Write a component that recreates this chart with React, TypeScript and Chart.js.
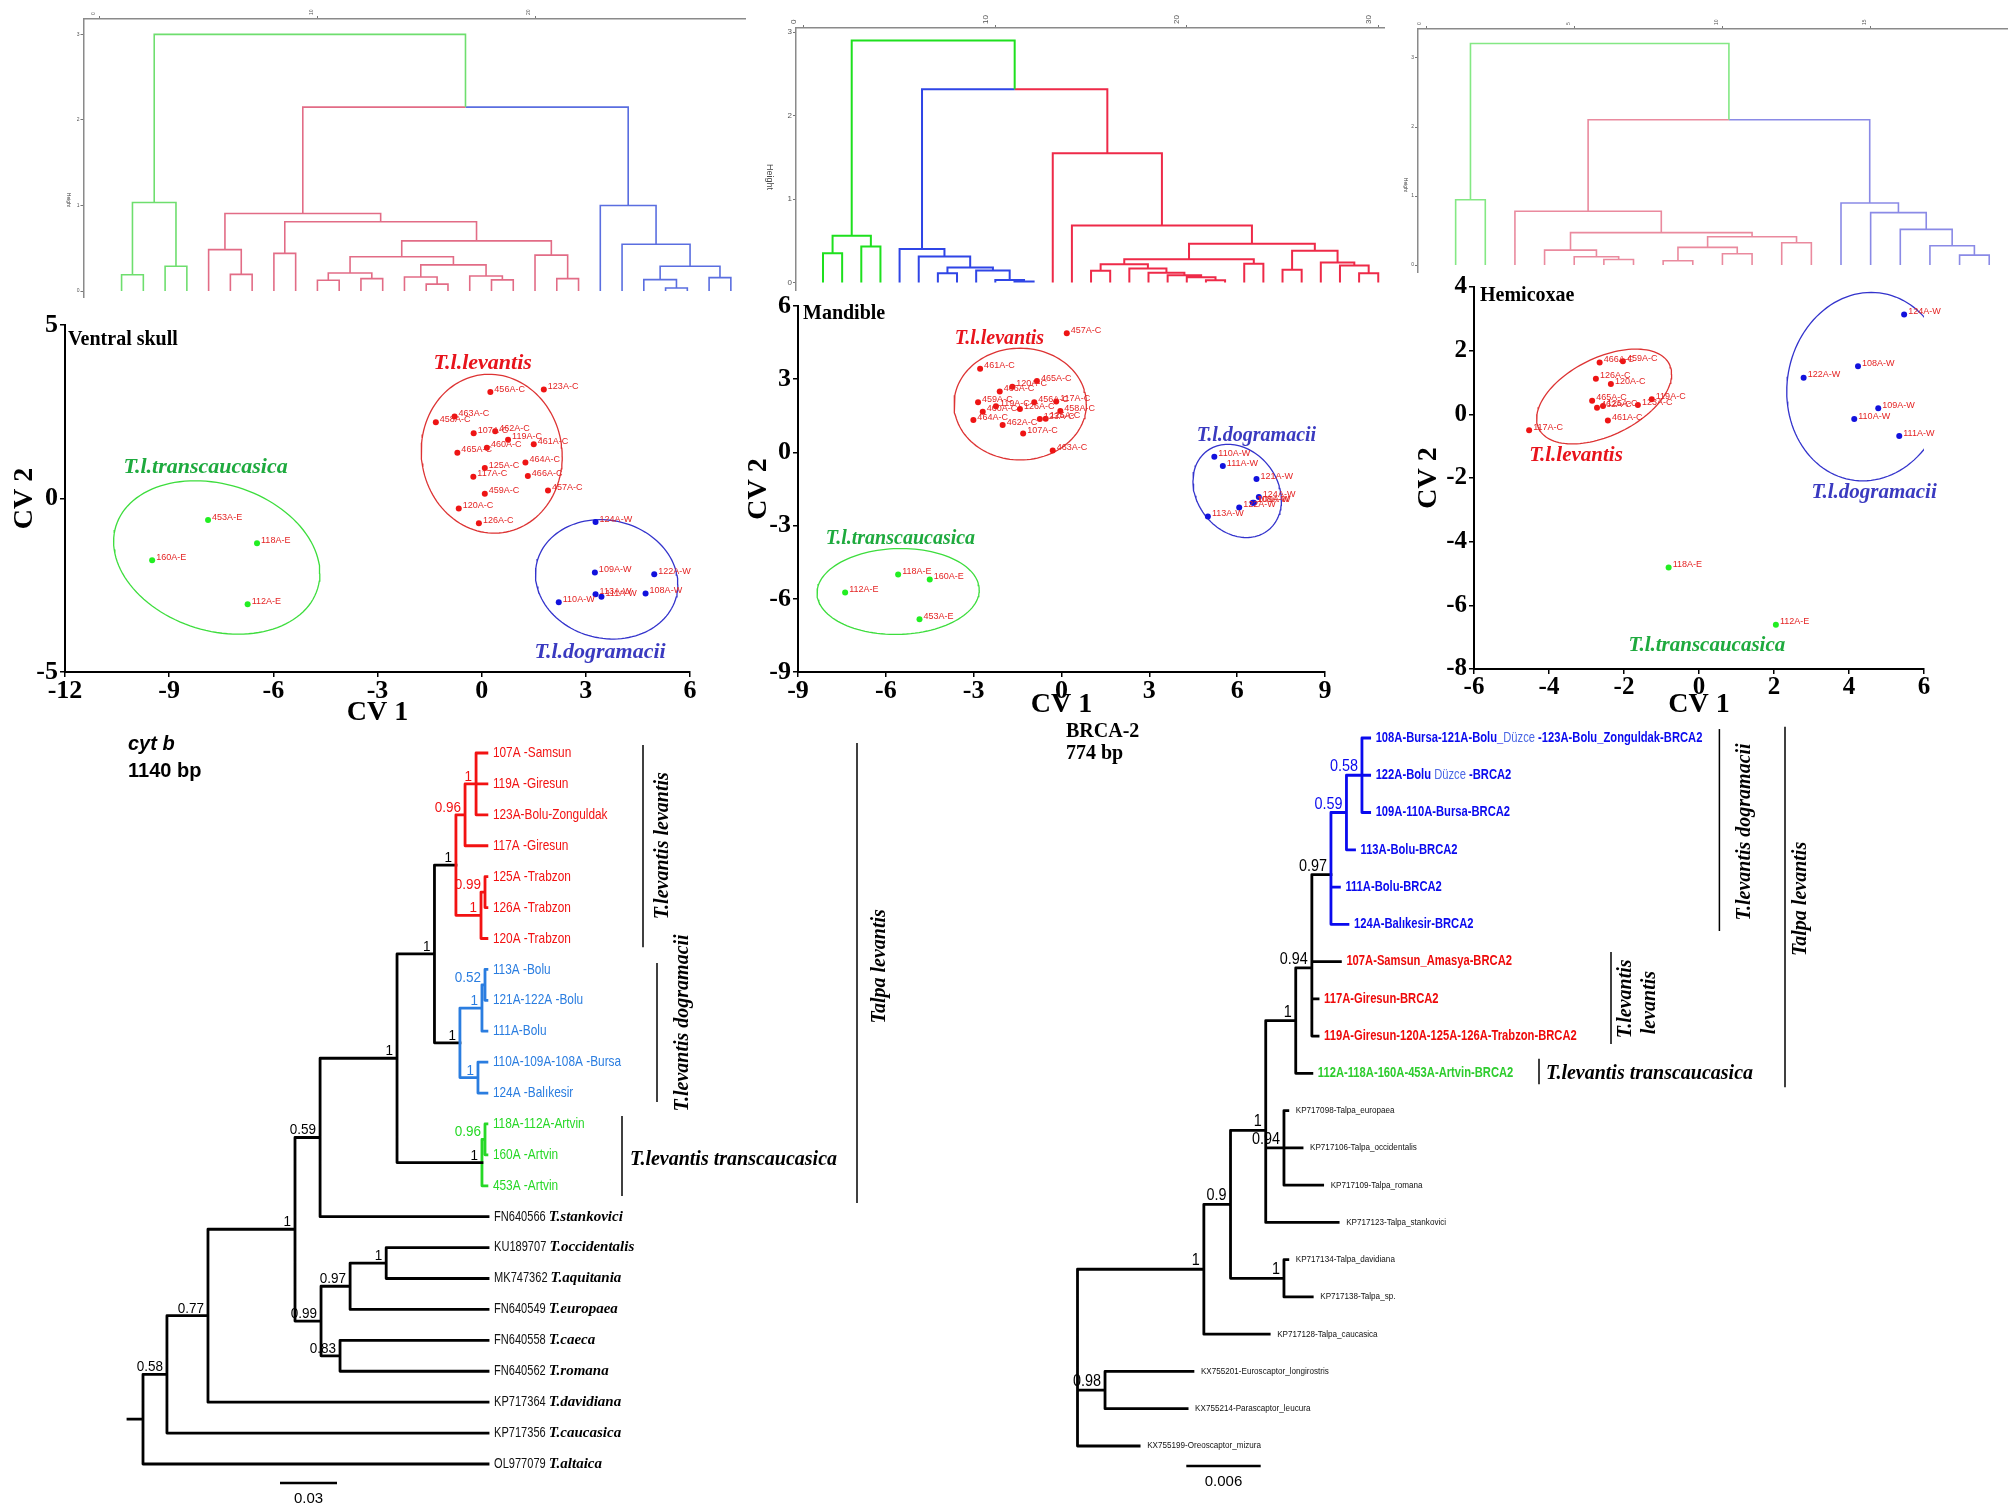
import React, { useEffect, useRef } from "react";
import { Chart, registerables } from "chart.js";

Chart.register(...registerables);

const SERIF = '"Liberation Serif", "Times New Roman", serif';
const SANS = '"Liberation Sans", Arial, sans-serif';
Chart.defaults.font.family = SANS;
Chart.defaults.color = "#000";

// ================= DENDROGRAM DATA (leaf index, merge height) =================
const skullGreen = { c: "g", t: [1.035, [0.19, 1, 2], [0.29, 3, 4]] };
const skullRed = {
  c: "r",
  t: [0.906, [0.484, 5, [0.195, 6, 7]],
    [0.81, [0.44, 8, 9],
      [0.586,
        [0.4, [0.21, [0.125, 10, 11], [0.145, 12, 13]], [0.305, [0.164, 14, [0.08, 15, 16]], [0.176, 17, [0.13, 18, 19]]]],
        [0.42, 20, [0.145, 21, 22]]]]],
};
const skullBlue = { c: "b", t: [1.0, 23, [0.547, 24, [0.29, [0.133, 25, [0.035, 26, 27]], [0.156, 28, 29]]]] };
const skullTopHeights = [3.0, 2.15];

const mandGreen = { c: "g", t: [0.56, [0.35, 1, 2], [0.43, 3, 4]] };
const mandBlue = { c: "b", t: [0.4, 5, [0.31, 6, [0.18, [0.11, 7, 8], [0.144, 9, [0.03, 10, [0.012, 11, 12]]]]]] };
const mandRed = {
  c: "r",
  t: [1.55, 13, [0.684, 14, [0.464,
    [0.28, [0.22, [0.14, 15, 16], [0.168, 17, [0.116, 18, [0.088, 19, [0.064, 20, [0.028, 21, 22]]]]]], [0.224, 23, 24]],
    [0.38, [0.152, 25, 26], [0.24, 27, [0.204, 28, [0.112, 29, 30]]]]]]],
};
const mandTopHeights = [2.9, 2.316];

const hemiGreen = { c: "g", t: [0.947, 1, 2] };
const hemiRed = {
  c: "r",
  t: [0.78, 3, [0.47, [0.217, 4, [0.12, 5, [0.082, 6, 7]]], [0.41, [0.256, [0.063, 8, 9], [0.164, 10, 11]], [0.324, 12, 13]]]],
};
const hemiBlue = { c: "b", t: [0.9, 14, [0.76, 15, [0.517, 16, [0.28, 17, [0.145, 18, 19]]]]] };
const hemiTopHeights = [3.21, 2.106];

// ================= SCATTER DATA (CV1, CV2) =================
const skullRedLabels = ["456A-C", "123A-C", "463A-C", "458A-C", "107A-C", "462A-C", "119A-C", "461A-C", "465A-C", "460A-C", "125A-C", "464A-C", "117A-C", "466A-C", "457A-C", "459A-C", "120A-C", "126A-C"];
const skullRedCV1 = [0.25, 1.79, -0.78, -1.32, -0.23, 0.39, 0.76, 1.5, -0.7, 0.15, 0.09, 1.26, -0.24, 1.33, 1.91, 0.09, -0.66, -0.08];
const skullRedCV2 = [3.07, 3.14, 2.36, 2.2, 1.88, 1.94, 1.69, 1.56, 1.32, 1.46, 0.88, 1.04, 0.63, 0.65, 0.23, 0.14, -0.29, -0.71];
const skullBlueLabels = ["124A-W", "109A-W", "122A-W", "113A-W", "111A-W", "108A-W", "110A-W"];
const skullBlueCV1 = [3.28, 3.26, 4.97, 3.28, 3.45, 4.72, 2.22];
const skullBlueCV2 = [-0.68, -2.13, -2.18, -2.76, -2.83, -2.74, -2.99];
const skullGreenLabels = ["453A-E", "118A-E", "160A-E", "112A-E"];
const skullGreenCV1 = [-7.88, -6.47, -9.49, -6.74];
const skullGreenCV2 = [-0.62, -1.29, -1.78, -3.05];

const mandRedLabels = ["457A-C", "461A-C", "465A-C", "120A-C", "466A-C", "459A-C", "456A-C", "117A-C", "119A-C", "460A-C", "126A-C", "458A-C", "464A-C", "462A-C", "123A-C", "125A-C", "107A-C", "463A-C"];
const mandRedCV1 = [0.18, -2.78, -0.84, -1.68, -2.11, -2.85, -0.93, -0.18, -2.24, -2.69, -1.42, -0.04, -3.01, -2.01, -0.74, -0.54, -1.31, -0.3];
const mandRedCV2 = [4.88, 3.43, 2.93, 2.69, 2.5, 2.06, 2.06, 2.09, 1.89, 1.67, 1.78, 1.7, 1.33, 1.12, 1.37, 1.38, 0.77, 0.08];
const mandBlueLabels = ["110A-W", "111A-W", "121A-W", "124A-W", "108A-W", "109A-W", "122A-W", "113A-W"];
const mandBlueCV1 = [5.22, 5.51, 6.66, 6.74, 6.53, 6.57, 6.07, 5.0];
const mandBlueCV2 = [-0.18, -0.56, -1.09, -1.83, -2.06, -2.06, -2.26, -2.63];
const mandGreenLabels = ["118A-E", "160A-E", "112A-E", "453A-E"];
const mandGreenCV1 = [-5.58, -4.5, -7.39, -4.85];
const mandGreenCV2 = [-5.0, -5.21, -5.74, -6.84];

const hemiRedLabels = ["466A-C", "459A-C", "126A-C", "120A-C", "465A-C", "119A-C", "123A-C", "462A-C", "125A-C", "461A-C", "117A-C"];
const hemiRedCV1 = [-2.65, -2.03, -2.75, -2.35, -2.85, -1.26, -1.63, -2.72, -2.56, -2.43, -4.53];
const hemiRedCV2 = [1.63, 1.67, 1.12, 0.95, 0.43, 0.47, 0.29, 0.21, 0.26, -0.19, -0.5];
const hemiBlueLabels = ["124A-W", "108A-W", "122A-W", "109A-W", "110A-W", "111A-W"];
const hemiBlueCV1 = [5.47, 4.24, 2.79, 4.78, 4.14, 5.34];
const hemiBlueCV2 = [3.14, 1.51, 1.15, 0.19, -0.15, -0.68];
const hemiGreenLabels = ["118A-E", "112A-E"];
const hemiGreenCV1 = [-0.81, 2.05];
const hemiGreenCV2 = [-4.81, -6.61];

// group ellipses: centre, half-extent on each axis, phase (tilt)
const skullEllipses = [
  { g: "r", cx: 0.29, cy: 1.29, rx: 2.03, ry: 2.29, phi: 92 },
  { g: "g", cx: -7.63, cy: -1.7, rx: 2.97, ry: 2.21, phi: 102 },
  { g: "b", cx: 3.6, cy: -2.33, rx: 2.05, ry: 1.72, phi: 95 },
];
const mandEllipses = [
  { g: "r", cx: -1.41, cy: 1.98, rx: 2.26, ry: 2.29, phi: 90 },
  { g: "b", cx: 6.0, cy: -1.58, rx: 1.51, ry: 1.91, phi: 102 },
  { g: "g", cx: -5.58, cy: -5.7, rx: 2.77, ry: 1.76, phi: 88 },
];
const hemiEllipses = [
  { g: "r", cx: -2.53, cy: 0.56, rx: 1.8, ry: 1.49, phi: 62 },
  { g: "b", cx: 4.48, cy: 0.87, rx: 2.14, ry: 2.96, phi: 87 },
];

const GROUP_NAMES = { r: "T.l.levantis", g: "T.l.transcaucasica", b: "T.l.dogramacii" };

// ================= PHYLOGENY DATA =================
const CYT_LEAVES = ["107A -Samsun", "119A -Giresun", "123A-Bolu-Zonguldak", "117A -Giresun", "125A -Trabzon", "126A -Trabzon", "120A -Trabzon", "113A -Bolu", "121A-122A -Bolu", "111A-Bolu", "110A-109A-108A -Bursa", "124A -Balıkesir", "118A-112A-Artvin", "160A -Artvin", "453A -Artvin", "FN640566", "KU189707", "MK747362", "FN640549", "FN640558", "FN640562", "KP717364", "KP717356", "OL977079"];
const CYT_SPECIES = ["", "", "", "", "", "", "", "", "", "", "", "", "", "", "", "T.stankovici", "T.occidentalis", "T.aquitania", "T.europaea", "T.caeca", "T.romana", "T.davidiana", "T.caucasica", "T.altaica"];
const CYT_GROUPS = ["r", "r", "r", "r", "r", "r", "r", "b", "b", "b", "b", "b", "g", "g", "g", "k", "k", "k", "k", "k", "k", "k", "k", "k"];
const CYT_TIPS = [0.181, 0.181, 0.181, 0.181, 0.181, 0.181, 0.181, 0.181, 0.181, 0.181, 0.181, 0.181, 0.181, 0.181, 0.181, 0.1816, 0.1816, 0.1816, 0.1816, 0.1816, 0.1816, 0.1816, 0.1816, 0.1816];
// node = [depth, support, clade, ...children]
const CYT_RED = [0.1647, "1", "r", [0.1695, "0.96", "r", [0.1753, "1", "r", 0, 1, 2], 3], [0.1779, "1", "r", [0.18, "0.99", "r", 4, 5], 6]];
const CYT_BLUE = [0.1668, "1", "b", [0.1784, "1", "b", [0.18, "0.52", "b", 7, 8], 9], [0.1763, "1", "b", 10, 11]];
const CYT_GREEN = [0.1784, "1", "g", [0.18, "0.96", "g", 12, 13], 14];
const CYT_TREE = [0, "", "k",
  [0.0126, "0.58", "k",
    [0.0342, "0.77", "k",
      [0.08, "1", "k",
        [0.0932, "0.59", "k", [0.1337, "1", "k", [0.1534, "1", "k", CYT_RED, CYT_BLUE], CYT_GREEN], 15],
        [0.0937, "0.99", "k", [0.109, "0.97", "k", [0.128, "1", "k", 16, 17], 18], [0.1037, "0.83", "k", 19, 20]]],
      21],
    22],
  23];
const CYT_ROOT_BRANCH = 0.0079;
const CYT_SCALE = 0.03;

const BRCA_LEAVES = ["108A-Bursa-121A-Bolu_Düzce -123A-Bolu_Zonguldak-BRCA2", "122A-Bolu Düzce -BRCA2", "109A-110A-Bursa-BRCA2", "113A-Bolu-BRCA2", "111A-Bolu-BRCA2", "124A-Balıkesir-BRCA2", "107A-Samsun_Amasya-BRCA2", "117A-Giresun-BRCA2", "119A-Giresun-120A-125A-126A-Trabzon-BRCA2", "112A-118A-160A-453A-Artvin-BRCA2", "KP717098-Talpa_europaea", "KP717106-Talpa_occidentalis", "KP717109-Talpa_romana", "KP717123-Talpa_stankovici", "KP717134-Talpa_davidiana", "KP717138-Talpa_sp.", "KP717128-Talpa_caucasica", "KX755201-Euroscaptor_longirostris", "KX755214-Parascaptor_leucura", "KX755199-Oreoscaptor_mizura"];
const BRCA_GROUPS = ["b", "b", "b", "b", "b", "b", "r", "r", "r", "g", "k", "k", "k", "k", "k", "k", "k", "k", "k", "k"];
const BRCA_TIPS = [0.02356, 0.02356, 0.02356, 0.02234, 0.02112, 0.02181, 0.0212, 0.0194, 0.0194, 0.0189, 0.01696, 0.01811, 0.01977, 0.02102, 0.01696, 0.01893, 0.01546, 0.00931, 0.00884, 0.00497];
const BRCA_BLUE = [0.02044, "0.97", "b", [0.02169, "0.59", "b", [0.02294, "0.58", "b", 0, 1, 2], 3], 4, 5];
const BRCA_TREE = [0, "", "k",
  [0.01019, "1", "k",
    [0.01234, "0.9", "k",
      [0.01518, "1", "k",
        [0.0176, "1", "k", [0.0189, "0.94", "k", BRCA_BLUE, 6, 7, 8], 9],
        [0.01518, "", "k", [0.01665, "0.94", "k", 10, 12], 11],
        13],
      [0.01665, "1", "k", 14, 15]],
    16],
  [0.00222, "0.98", "k", 17, 18],
  19];
const BRCA_SCALE = 0.006;

// ================= STYLES / LAYOUT =================
const PT = { r: "#ee1414", g: "#22ee22", b: "#1212dd" };
const ELL = { r: "#dd3333", g: "#3ddd3d", b: "#3333cc" };
const GTXT = { r: "#e8141c", g: "#1eaa3e", b: "#3a3ac0" };
const CYT_COL = { r: "#f21212", b: "#2a7de0", g: "#26d826", k: "#000000" };
const BRCA_COL = { r: "#ee0a0a", b: "#0a0aee", g: "#2ecc2e", k: "#000000" };

// draw text; sx < 1 condenses horizontally
function text(ctx, s, x, y, font, color, align = "left", baseline = "middle", rot = 0, sx = 1) {
  ctx.save();
  ctx.translate(x, y);
  if (rot) ctx.rotate(rot);
  if (sx !== 1) ctx.scale(sx, 1);
  ctx.font = font;
  ctx.fillStyle = color;
  ctx.textAlign = align;
  ctx.textBaseline = baseline;
  ctx.fillText(s, 0, 0);
  ctx.restore();
}
function measure(ctx, s, font, sx = 1) {
  ctx.save();
  ctx.font = font;
  const w = ctx.measureText(s).width * sx;
  ctx.restore();
  return w;
}
function vline(ctx, x, y0, y1, w = 1.5) {
  ctx.save();
  ctx.strokeStyle = "#000";
  ctx.lineWidth = w;
  ctx.beginPath();
  ctx.moveTo(x, y0);
  ctx.lineTo(x, y1);
  ctx.stroke();
  ctx.restore();
}
function hline(ctx, x0, x1, y, w = 2.5) {
  ctx.save();
  ctx.strokeStyle = "#000";
  ctx.lineWidth = w;
  ctx.beginPath();
  ctx.moveTo(x0, y);
  ctx.lineTo(x1, y);
  ctx.stroke();
  ctx.restore();
}

// ---------- dendrogram ----------
function buildDendro(root, rootColor) {
  const segs = {};
  const add = (c, pts) => {
    (segs[c] = segs[c] || []).push(...pts, { x: NaN, y: NaN });
  };
  const walk = (n, col) => {
    if (typeof n === "number") return { x: n, h: 0, c: col };
    if (!Array.isArray(n)) return walk(n.t, n.c);
    const [h, a, b] = n;
    const A = walk(a, col);
    const B = walk(b, col);
    const x = (A.x + B.x) / 2;
    add(A.c, [{ x: A.x, y: A.h }, { x: A.x, y: h }, { x, y: h }]);
    add(B.c, [{ x: B.x, y: B.h }, { x: B.x, y: h }, { x, y: h }]);
    return { x, h, c: col };
  };
  walk(root, rootColor);
  return segs;
}

function dendroConfig(root, palette, lay) {
  const segs = buildDendro(root, "g");
  const datasets = Object.keys(segs).map((k) => ({
    data: segs[k],
    showLine: true,
    pointRadius: 0,
    pointHitRadius: 0,
    borderColor: palette[k],
    borderWidth: lay.lw,
    borderJoinStyle: "miter",
    spanGaps: false,
  }));
  const tickFont = { size: lay.tickSize, family: SANS };
  return {
    type: "scatter",
    data: { datasets },
    options: {
      animation: false,
      responsive: true,
      maintainAspectRatio: false,
      events: [],
      layout: { padding: { top: 0, left: 0, right: lay.padRight, bottom: lay.padBottom } },
      plugins: { legend: { display: false }, tooltip: { enabled: false } },
      scales: {
        x: {
          type: "linear",
          position: "top",
          min: lay.xMin,
          max: lay.xMax,
          ticks: { stepSize: lay.xStep, includeBounds: false, font: tickFont, color: "#555", minRotation: 90, maxRotation: 90, padding: 1 },
          grid: { drawOnChartArea: false, drawTicks: true, tickLength: 3, color: "#777", lineWidth: 1 },
          border: { display: true, color: "#8a8a8a", width: 1.5 },
          afterFit: (s) => { s.height = lay.xH; },
        },
        y: {
          type: "linear",
          position: "left",
          min: lay.yMin,
          max: lay.yMax,
          ticks: { stepSize: 1, includeBounds: false, font: tickFont, color: "#555", padding: 1 },
          grid: { drawOnChartArea: false, drawTicks: true, tickLength: 3, color: "#777", lineWidth: 1 },
          border: { display: true, color: "#8a8a8a", width: 1.5 },
          afterFit: (s) => { s.width = lay.yW; },
        },
      },
    },
    plugins: [{
      id: "dendroTitle",
      afterDraw(chart) {
        const { chartArea } = chart;
        text(chart.ctx, "Height", lay.heightX, chartArea.top + lay.heightDy, `${lay.heightSize}px ${SANS}`, "#444", "center", "middle", Math.PI / 2);
      },
    }],
  };
}

// ---------- scatter ----------
function scatterConfig(panel, lay) {
  const datasets = [];
  panel.groups.forEach((g) => {
    datasets.push({
      data: g.xs.map((x, i) => ({ x, y: g.ys[i] })),
      pointRadius: 3,
      pointHoverRadius: 3,
      pointBackgroundColor: PT[g.g],
      pointBorderWidth: 0,
      showLine: false,
      order: 1,
    });
  });
  panel.ellipses.forEach((e) => {
    const pts = [];
    for (let a = 0; a <= 360; a += 3) {
      const t = (a * Math.PI) / 180;
      pts.push({ x: e.cx + e.rx * Math.cos(t), y: e.cy + e.ry * Math.cos(t - (e.phi * Math.PI) / 180) });
    }
    datasets.push({ data: pts, showLine: true, pointRadius: 0, pointHitRadius: 0, borderColor: ELL[e.g], borderWidth: 1.3, fill: false, order: 2 });
  });
  const tickFont = { family: SERIF, size: lay.tickSize, weight: "bold", lineHeight: 1 };
  const titleFont = { family: SERIF, size: 28, weight: "bold", lineHeight: 1 };
  const grid = { drawOnChartArea: false, drawTicks: true, tickLength: 5, color: "#000", lineWidth: 1.5 };
  const border = { display: true, color: "#000", width: 2 };
  return {
    type: "scatter",
    data: { datasets },
    options: {
      animation: false,
      responsive: true,
      maintainAspectRatio: false,
      events: [],
      layout: { padding: { top: lay.padTop, right: lay.padRight, left: 0, bottom: 0 } },
      plugins: { legend: { display: false }, tooltip: { enabled: false } },
      scales: {
        x: {
          type: "linear",
          min: panel.xMin,
          max: panel.xMax,
          ticks: { stepSize: panel.xStep, font: tickFont, color: "#000", padding: 1 },
          grid,
          border,
          title: { display: true, text: "CV 1", font: titleFont, color: "#000", padding: { top: 0, bottom: lay.xTitlePad } },
          afterFit: (s) => { s.height = lay.xH; },
        },
        y: {
          type: "linear",
          min: panel.yMin,
          max: panel.yMax,
          ticks: { stepSize: panel.yStep, font: tickFont, color: "#000", padding: 2 },
          grid,
          border,
          title: { display: true, text: "CV 2", font: titleFont, color: "#000", padding: { top: lay.yTitlePad, bottom: 0 } },
          afterFit: (s) => { s.width = lay.yW; },
        },
      },
    },
    plugins: [{
      id: "scatterText",
      afterDatasetsDraw(chart) {
        const { ctx, chartArea } = chart;
        const x = chart.scales.x;
        const y = chart.scales.y;
        panel.groups.forEach((g) => {
          g.labels.forEach((lab, i) => {
            text(ctx, lab, x.getPixelForValue(g.xs[i]) + 4, y.getPixelForValue(g.ys[i]) - 3, `9.5px ${SANS}`, "#e42424", "left", "middle", 0, 0.95);
          });
        });
        panel.groupText.forEach((t) => {
          text(ctx, GROUP_NAMES[t.g], x.getPixelForValue(t.x), y.getPixelForValue(t.y), `italic bold ${lay.groupSize}px ${SERIF}`, GTXT[t.g], "center", "middle");
        });
        text(ctx, panel.title, chartArea.left + lay.titleDx, chartArea.top + lay.titleDy, `bold 20px ${SERIF}`, "#000", "left", "alphabetic");
      },
    }],
  };
}

// ---------- phylogeny ----------
function buildTree(root, tips, stub) {
  const segs = {};
  const sups = [];
  const add = (c, pts) => {
    (segs[c] = segs[c] || []).push(...pts, { x: NaN, y: NaN });
  };
  const walk = (n) => {
    if (typeof n === "number") return { x: tips[n], y: n };
    const [d, , g, ...kids] = n;
    const K = kids.map(walk);
    const ny = K.reduce((s, k) => s + k.y, 0) / K.length;
    kids.forEach((k, i) => {
      add(g, [{ x: d, y: ny }, { x: d, y: K[i].y }, { x: K[i].x, y: K[i].y }]);
      if (typeof k !== "number" && k[1]) sups.push({ x: K[i].x, y: K[i].y, text: k[1], g });
    });
    return { x: d, y: ny };
  };
  const r = walk(root);
  if (stub) add("k", [{ x: -stub, y: r.y }, { x: 0, y: r.y }]);
  return { segs, sups };
}

function treeConfig(tree, tips, colors, lay, stub, drawExtra) {
  const { segs, sups } = buildTree(tree, tips, stub);
  const datasets = Object.keys(segs).map((k) => ({
    data: segs[k],
    showLine: true,
    pointRadius: 0,
    pointHitRadius: 0,
    borderColor: colors[k],
    borderWidth: lay.lw,
    borderJoinStyle: "round",
    borderCapStyle: "square",
    spanGaps: false,
  }));
  return {
    type: "scatter",
    data: { datasets },
    options: {
      animation: false,
      responsive: true,
      maintainAspectRatio: false,
      events: [],
      layout: { padding: 0 },
      plugins: { legend: { display: false }, tooltip: { enabled: false } },
      scales: {
        x: { type: "linear", display: false, min: lay.xMin, max: lay.xMax },
        y: { type: "linear", display: false, reverse: true, min: lay.yMin, max: lay.yMax },
      },
    },
    plugins: [{ id: "treeText", afterDatasetsDraw(chart) { drawExtra(chart, sups); } }],
  };
}

const CYT_SX = 0.79;
const BRCA_SX = 0.8;

function drawCyt(chart, sups) {
  const { ctx } = chart;
  const x = chart.scales.x;
  const y = chart.scales.y;
  sups.forEach((s) => {
    text(ctx, s.text, x.getPixelForValue(s.x) - 4, y.getPixelForValue(s.y) - 3, `15px ${SANS}`, CYT_COL[s.g], "right", "alphabetic", 0, 0.9);
  });
  CYT_LEAVES.forEach((lab, i) => {
    const px = x.getPixelForValue(CYT_TIPS[i]) + 6;
    const py = y.getPixelForValue(i);
    const g = CYT_GROUPS[i];
    if (g !== "k") {
      text(ctx, lab, px, py, `15px ${SANS}`, CYT_COL[g], "left", "middle", 0, CYT_SX);
    } else {
      const af = `14px ${SANS}`;
      const w = measure(ctx, lab + " ", af, CYT_SX);
      text(ctx, lab, px, py, af, "#111", "left", "middle", 0, CYT_SX);
      text(ctx, CYT_SPECIES[i], px + w, py, `italic bold 15px ${SERIF}`, "#000");
    }
  });
  const Y = (v) => y.getPixelForValue(v);
  const f = `italic bold 20px ${SERIF}`;
  vline(ctx, 543, Y(-0.26), Y(6.28));
  text(ctx, "T.levantis levantis", 563, Y(3), f, "#000", "center", "middle", -Math.PI / 2);
  vline(ctx, 557, Y(6.79), Y(11.29));
  text(ctx, "T.levantis dogramacii", 583, Y(8.73), f, "#000", "center", "middle", -Math.PI / 2);
  vline(ctx, 522, Y(11.74), Y(14.33));
  text(ctx, "T.levantis transcaucasica", 530, Y(13.15), f, "#000", "left", "middle");
  vline(ctx, 757, Y(-0.32), Y(14.56));
  text(ctx, "Talpa levantis", 780, Y(6.9), f, "#000", "center", "middle", -Math.PI / 2);
  text(ctx, "cyt b", 28, 20, `italic bold 20px ${SANS}`, "#000", "left", "alphabetic");
  text(ctx, "1140 bp", 28, 47, `bold 20px ${SANS}`, "#000", "left", "alphabetic");
  const len = x.getPixelForValue(CYT_SCALE) - x.getPixelForValue(0);
  hline(ctx, 180, 180 + len, 753);
  text(ctx, String(CYT_SCALE), 180 + len / 2, 769, `15px ${SANS}`, "#000", "center", "middle");
}

function drawBrca(chart, sups) {
  const { ctx } = chart;
  const x = chart.scales.x;
  const y = chart.scales.y;
  sups.forEach((s) => {
    text(ctx, s.text, x.getPixelForValue(s.x) - 4, y.getPixelForValue(s.y) - 4, `16px ${SANS}`, BRCA_COL[s.g], "right", "alphabetic", 0, 0.9);
  });
  BRCA_LEAVES.forEach((lab, i) => {
    const g = BRCA_GROUPS[i];
    const px = x.getPixelForValue(BRCA_TIPS[i]) + (g === "k" ? 8 : 6);
    const py = y.getPixelForValue(i);
    if (g === "k") {
      text(ctx, lab, px, py, `9px ${SANS}`, "#111", "left", "middle", 0, 0.9);
      return;
    }
    const bold = `bold 14px ${SANS}`;
    const reg = `14px ${SANS}`;
    const parts = lab.split("Düzce");
    let cx = px;
    parts.forEach((p, j) => {
      if (j > 0) {
        text(ctx, "Düzce", cx, py, reg, "#4a66e4", "left", "middle", 0, BRCA_SX);
        cx += measure(ctx, "Düzce", reg, BRCA_SX);
      }
      text(ctx, p, cx, py, bold, BRCA_COL[g], "left", "middle", 0, BRCA_SX);
      cx += measure(ctx, p, bold, BRCA_SX);
    });
  });
  const Y = (v) => y.getPixelForValue(v);
  const f = `italic bold 20px ${SERIF}`;
  vline(ctx, 679.4, Y(-0.24), Y(5.18));
  text(ctx, "T.levantis dogramacii", 704.6, Y(2.52), f, "#000", "center", "middle", -Math.PI / 2);
  vline(ctx, 745, Y(-0.3), Y(9.37));
  text(ctx, "Talpa levantis", 761, Y(4.32), f, "#000", "center", "middle", -Math.PI / 2);
  vline(ctx, 571, Y(5.74), Y(8.21));
  text(ctx, "T.levantis", 586, Y(7.0), f, "#000", "center", "middle", -Math.PI / 2);
  text(ctx, "levantis", 610, Y(7.1), f, "#000", "center", "middle", -Math.PI / 2);
  vline(ctx, 499, Y(8.61), Y(9.29));
  text(ctx, "T.levantis transcaucasica", 506, Y(9.02), f, "#000", "left", "middle");
  text(ctx, "BRCA-2", 26, 22, `bold 20px ${SERIF}`, "#000", "left", "alphabetic");
  text(ctx, "774 bp", 26, 44, `bold 20px ${SERIF}`, "#000", "left", "alphabetic");
  const len = x.getPixelForValue(BRCA_SCALE) - x.getPixelForValue(0);
  hline(ctx, 146.3, 146.3 + len, 751);
  text(ctx, String(BRCA_SCALE), 146.3 + len / 2, 767, `15px ${SANS}`, "#000", "center", "middle");
}

// ================= PANELS =================
const skullPanel = {
  title: "Ventral skull",
  xMin: -12, xMax: 6, xStep: 3, yMin: -5, yMax: 5, yStep: 5,
  groups: [
    { g: "g", labels: skullGreenLabels, xs: skullGreenCV1, ys: skullGreenCV2 },
    { g: "b", labels: skullBlueLabels, xs: skullBlueCV1, ys: skullBlueCV2 },
    { g: "r", labels: skullRedLabels, xs: skullRedCV1, ys: skullRedCV2 },
  ],
  ellipses: skullEllipses,
  groupText: [{ g: "r", x: 0.03, y: 3.9 }, { g: "g", x: -7.95, y: 0.9 }, { g: "b", x: 3.41, y: -4.44 }],
};
const mandPanel = {
  title: "Mandible",
  xMin: -9, xMax: 9, xStep: 3, yMin: -9, yMax: 6, yStep: 3,
  groups: [
    { g: "g", labels: mandGreenLabels, xs: mandGreenCV1, ys: mandGreenCV2 },
    { g: "b", labels: mandBlueLabels, xs: mandBlueCV1, ys: mandBlueCV2 },
    { g: "r", labels: mandRedLabels, xs: mandRedCV1, ys: mandRedCV2 },
  ],
  ellipses: mandEllipses,
  groupText: [{ g: "r", x: -2.12, y: 4.65 }, { g: "b", x: 6.66, y: 0.67 }, { g: "g", x: -5.5, y: -3.54 }],
};
const hemiPanel = {
  title: "Hemicoxae",
  xMin: -6, xMax: 6, xStep: 2, yMin: -8, yMax: 4, yStep: 2,
  groups: [
    { g: "g", labels: hemiGreenLabels, xs: hemiGreenCV1, ys: hemiGreenCV2 },
    { g: "b", labels: hemiBlueLabels, xs: hemiBlueCV1, ys: hemiBlueCV2 },
    { g: "r", labels: hemiRedLabels, xs: hemiRedCV1, ys: hemiRedCV2 },
  ],
  ellipses: hemiEllipses,
  groupText: [{ g: "r", x: -3.28, y: -1.3 }, { g: "b", x: 4.67, y: -2.46 }, { g: "g", x: 0.21, y: -7.26 }],
};

const BOX = {
  d1: { left: 60, top: 0, width: 700, height: 310 },
  d2: { left: 760, top: 0, width: 640, height: 300 },
  d3: { left: 1400, top: 0, width: 612, height: 290 },
  s1: { left: 0, top: 300, width: 720, height: 460 },
  s2: { left: 740, top: 285, width: 620, height: 450 },
  s3: { left: 1400, top: 265, width: 600, height: 470 },
  t1: { left: 100, top: 730, width: 800, height: 780 },
  t2: { left: 1040, top: 715, width: 820, height: 795 },
};

const D1_LAY = { xMin: -0.75, xMax: 29.65, xStep: 10, yMin: -0.07, yMax: 3.18, yW: 23.5, xH: 19, padRight: 15, padBottom: 13, lw: 1.6, tickSize: 5, heightX: 8, heightDy: 181, heightSize: 5 };
const D2_LAY = { xMin: -0.41, xMax: 30.3, xStep: 10, yMin: -0.09, yMax: 3.05, yW: 36, xH: 28, padRight: 16, padBottom: 10, lw: 2, tickSize: 8, heightX: 9, heightDy: 149, heightSize: 9 };
const D3_LAY = { xMin: -0.27, xMax: 19.6, xStep: 5, yMin: -0.1, yMax: 3.42, yW: 18, xH: 29, padRight: 5, padBottom: 18, lw: 1.6, tickSize: 5, heightX: 5, heightDy: 156, heightSize: 5 };

const S1_LAY = { yW: 65, xH: 88, padTop: 25, padRight: 30, yTitlePad: 11, xTitlePad: 33, tickSize: 26, groupSize: 22, titleDx: 3, titleDy: 20 };
const S2_LAY = { yW: 58, xH: 63, padTop: 21, padRight: 35, yTitlePad: 5, xTitlePad: 16, tickSize: 26, groupSize: 20, titleDx: 5, titleDy: 13 };
const S3_LAY = { yW: 74, xH: 66, padTop: 22, padRight: 76, yTitlePad: 15, xTitlePad: 16, tickSize: 25, groupSize: 21, titleDx: 6, titleDy: 14 };

const T1_LAY = { xMin: -0.022632, xMax: 0.398421, yMin: -0.744, yMax: 24.488, lw: 2.8 };
const T2_LAY = { xMin: -0.0030242, xMax: 0.063105, yMin: -0.617, yMax: 20.718, lw: 2.8 };

const D1_PAL = { g: "#6ede6e", r: "#e26c86", b: "#5a6ee0" };
const D2_PAL = { g: "#1ee01e", r: "#ee2a48", b: "#2f45e6" };
const D3_PAL = { g: "#84e884", r: "#ea8a9e", b: "#8a8ae6" };

function ChartPanel({ box, build }) {
  const ref = useRef(null);
  useEffect(() => {
    if (!ref.current) return;
    const chart = new Chart(ref.current, build());
    return () => chart.destroy();
  }, []);
  return (
    <div style={{ position: "absolute", left: box.left, top: box.top, width: box.width, height: box.height }}>
      <canvas ref={ref} />
    </div>
  );
}

export default function App() {
  return (
    <div style={{ position: "fixed", left: 0, top: 0, width: 2012, height: 1510, background: "#ffffff", overflow: "hidden" }}>
      <ChartPanel box={BOX.d1} build={() => dendroConfig([skullTopHeights[0], skullGreen, [skullTopHeights[1], skullRed, skullBlue]], D1_PAL, D1_LAY)} />
      <ChartPanel box={BOX.d2} build={() => dendroConfig([mandTopHeights[0], mandGreen, [mandTopHeights[1], mandBlue, mandRed]], D2_PAL, D2_LAY)} />
      <ChartPanel box={BOX.d3} build={() => dendroConfig([hemiTopHeights[0], hemiGreen, [hemiTopHeights[1], hemiRed, hemiBlue]], D3_PAL, D3_LAY)} />
      <ChartPanel box={BOX.s1} build={() => scatterConfig(skullPanel, S1_LAY)} />
      <ChartPanel box={BOX.s2} build={() => scatterConfig(mandPanel, S2_LAY)} />
      <ChartPanel box={BOX.s3} build={() => scatterConfig(hemiPanel, S3_LAY)} />
      <ChartPanel box={BOX.t1} build={() => treeConfig(CYT_TREE, CYT_TIPS, CYT_COL, T1_LAY, CYT_ROOT_BRANCH, drawCyt)} />
      <ChartPanel box={BOX.t2} build={() => treeConfig(BRCA_TREE, BRCA_TIPS, BRCA_COL, T2_LAY, 0, drawBrca)} />
    </div>
  );
}
